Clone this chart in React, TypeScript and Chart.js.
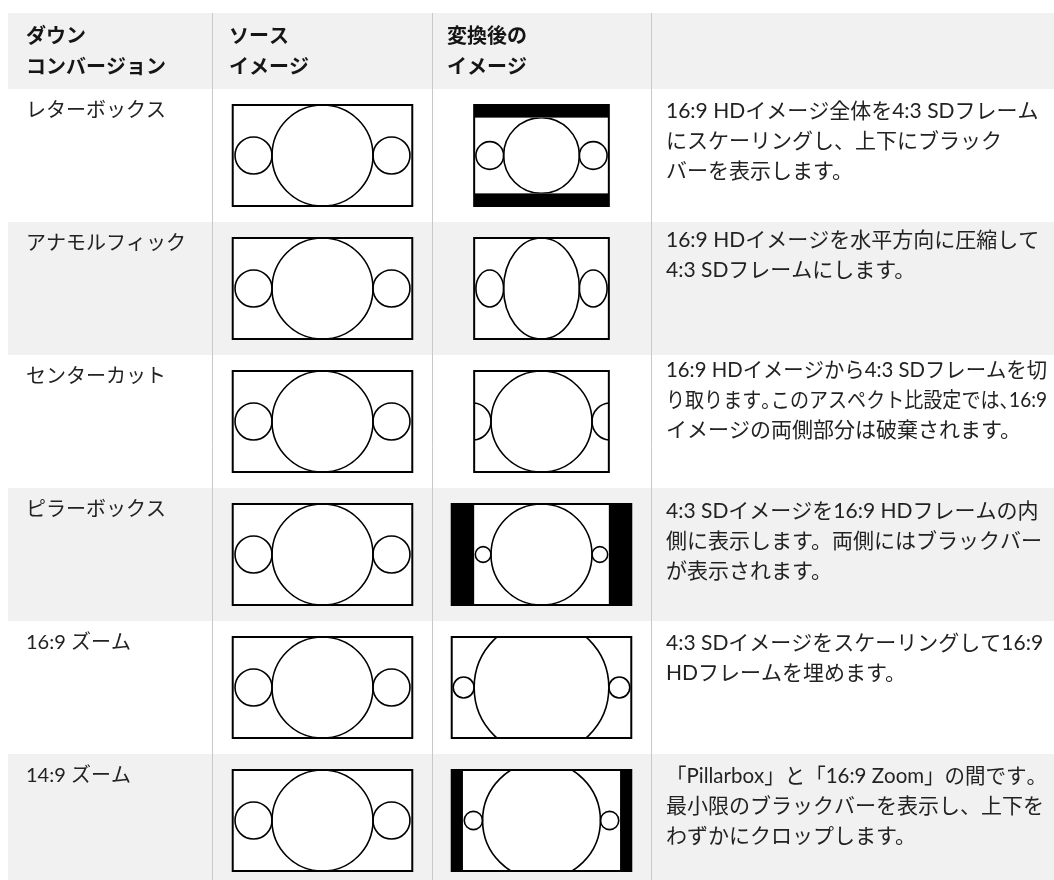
import React, { useEffect, useRef } from "react";
import { Chart, registerables } from "chart.js";

Chart.register(...registerables);

// ---------- data ----------
const HEADERS: string[][] = [
  ["ダウン", "コンバージョン"],
  ["ソース", "イメージ"],
  ["変換後の", "イメージ"],
  [],
];

const CONVERSIONS: string[] = [
  "レターボックス",
  "アナモルフィック",
  "センターカット",
  "ピラーボックス",
  "16:9 ズーム",
  "14:9 ズーム",
];

const DESCRIPTIONS: string[][] = [
  ["16:9 HDイメージ全体を4:3 SDフレーム", "にスケーリングし、上下にブラック", "バーを表示します。"],
  ["16:9 HDイメージを水平方向に圧縮して", "4:3 SDフレームにします。"],
  ["16:9 HDイメージから4:3 SDフレームを切", "り取ります。このアスペクト比設定では、16:9", "イメージの両側部分は破棄されます。"],
  ["4:3 SDイメージを16:9 HDフレームの内", "側に表示します。両側にはブラックバー", "が表示されます。"],
  ["4:3 SDイメージをスケーリングして16:9", "HDフレームを埋めます。"],
  ["「Pillarbox」と「16:9 Zoom」の間です。", "最小限のブラックバーを表示し、上下を", "わずかにクロップします。"],
];

// which picture feeds the converted frame
const OUTPUT_SCENE: ("HD" | "SD")[] = ["HD", "HD", "HD", "SD", "SD", "SD"];
// aspect ratio of the converted frame
const OUTPUT_ASPECT: number[] = [4 / 3, 4 / 3, 4 / 3, 16 / 9, 16 / 9, 16 / 9];
// scaling applied to the picture inside the converted frame
const SCALE_X: number[] = [0.75, 0.75, 1, 1, 4 / 3, 7 / 6];
const SCALE_Y: number[] = [0.75, 1, 1, 1, 4 / 3, 7 / 6];

const SCENE_ASPECT = { HD: 16 / 9, SD: 4 / 3 };
// circles of each picture: [x offset, radius] in frame-height units
const HD_CIRCLES: number[][] = [[0, 0.5], [-0.683, 0.183], [0.683, 0.183]];
const SD_CIRCLES: number[][] = [[0, 0.5], [-0.578, 0.0775], [0.578, 0.0775]];

// ---------- layout ----------
const W = 1054;
const H = 880;
const TABLE_LEFT = 8;
const HEADER_TOP = 13;
const HEADER_BOTTOM = 89;
const ROW_H = 133;
const COL_LINES = [212.5, 432.5, 651.5];
const COL_TEXT_X = [26, 229, 447, 666];
const SRC_CX = 322.5;
const OUT_CX = 541.5;
const FRAME_H = 101;
const HEADER_LINE_Y = [35, 66];
const LABEL_DY = 22;
const DESC_DY = [22, 18, 15, 23, 22, 22];
const DESC_LH = 30;
const DESC_MAXW = 381;
const GRAY = "#f1f1f1";
const RULE = "#c8c8c8";
const FONT = '"Noto Sans CJK JP", "Noto Sans", sans-serif';
const BODY_FONT = 'Lato, "Noto Sans CJK JP", sans-serif';

function drawLine(ctx: CanvasRenderingContext2D, text: string, x: number, y: number, size: number, maxW: number) {
  const natural = ctx.measureText(text).width;
  if (natural <= maxW) {
    ctx.fillText(text, x, y);
    return;
  }
  // compress punctuation, then squeeze if still too wide
  const adv: number[] = [];
  let total = 0;
  for (let i = 0; i < text.length; i++) {
    const ch = text[i];
    let a = ctx.measureText(ch).width;
    if ((ch === "。" || ch === "、") && i < text.length - 1) a -= size * 0.5;
    adv.push(a);
    total += a;
  }
  const f = total > maxW ? maxW / total : 1;
  ctx.save();
  ctx.translate(x, y);
  ctx.scale(f, 1);
  let cx = 0;
  for (let i = 0; i < text.length; i++) {
    ctx.fillText(text[i], cx, 0);
    cx += adv[i];
  }
  ctx.restore();
}

const tablePlugin = {
  id: "conversionTable",
  beforeDatasetsDraw(chart: any) {
    const ctx: CanvasRenderingContext2D = chart.ctx;
    const xs = chart.scales.x;
    const ys = chart.scales.y;
    const X = (v: number) => xs.getPixelForValue(v);
    const Y = (v: number) => ys.getPixelForValue(v);
    const n = CONVERSIONS.length;

    ctx.save();
    // backgrounds
    ctx.fillStyle = "#ffffff";
    ctx.fillRect(X(0), Y(0), X(W) - X(0), Y(H) - Y(0));
    ctx.fillStyle = GRAY;
    ctx.fillRect(X(TABLE_LEFT), Y(HEADER_TOP), X(W) - X(TABLE_LEFT), Y(HEADER_BOTTOM) - Y(HEADER_TOP));
    for (let i = 0; i < n; i++) {
      if (i % 2 === 1) {
        const top = HEADER_BOTTOM + i * ROW_H;
        ctx.fillRect(X(TABLE_LEFT), Y(top), X(W) - X(TABLE_LEFT), Y(top + ROW_H) - Y(top));
      }
    }
    // column rules
    ctx.strokeStyle = RULE;
    ctx.lineWidth = 1;
    for (const cx of COL_LINES) {
      ctx.beginPath();
      ctx.moveTo(X(cx), Y(HEADER_TOP));
      ctx.lineTo(X(cx), Y(H));
      ctx.stroke();
    }

    // header text
    ctx.textBaseline = "middle";
    ctx.textAlign = "left";
    ctx.fillStyle = "#151515";
    ctx.font = `bold 20px ${FONT}`;
    HEADERS.forEach((lines, c) => {
      lines.forEach((t, k) => ctx.fillText(t, X(COL_TEXT_X[c]), Y(HEADER_LINE_Y[k])));
    });

    // frame drawing helper
    const drawFrame = (cx: number, cy: number, aspect: number, circles: number[][], sceneAspect: number, sx: number, sy: number) => {
      const fw = aspect * FRAME_H;
      const left = X(cx - fw / 2), right = X(cx + fw / 2);
      const top = Y(cy - FRAME_H / 2), bottom = Y(cy + FRAME_H / 2);
      const regW = Math.min(aspect, sceneAspect * sx) * FRAME_H;
      const regH = Math.min(1, sy) * FRAME_H;
      ctx.fillStyle = "#000";
      ctx.fillRect(left, top, right - left, bottom - top);
      const rl = X(cx - regW / 2), rr = X(cx + regW / 2);
      const rt = Y(cy - regH / 2), rb = Y(cy + regH / 2);
      ctx.fillStyle = "#fff";
      ctx.fillRect(rl, rt, rr - rl, rb - rt);
      ctx.save();
      ctx.beginPath();
      ctx.rect(rl, rt, rr - rl, rb - rt);
      ctx.clip();
      ctx.strokeStyle = "#000";
      ctx.lineWidth = 1.6;
      for (const [ox, r] of circles) {
        const ex = X(cx + ox * sx * FRAME_H);
        const ey = Y(cy);
        const rx = X(cx + r * sx * FRAME_H) - X(cx);
        const ry = Y(cy + r * sy * FRAME_H) - Y(cy);
        ctx.beginPath();
        ctx.ellipse(ex, ey, rx, ry, 0, 0, Math.PI * 2);
        ctx.stroke();
      }
      ctx.restore();
      ctx.strokeStyle = "#000";
      ctx.lineWidth = 2;
      ctx.strokeRect(left, top, right - left, bottom - top);
    };

    for (let i = 0; i < n; i++) {
      const top = HEADER_BOTTOM + i * ROW_H;
      const cy = top + ROW_H / 2;
      // label
      ctx.fillStyle = "#222";
      ctx.font = `400 20px ${BODY_FONT}`;
      ctx.fillText(CONVERSIONS[i], X(COL_TEXT_X[0]), Y(top + LABEL_DY));
      // source picture (always HD)
      drawFrame(SRC_CX, cy, SCENE_ASPECT.HD, HD_CIRCLES, SCENE_ASPECT.HD, 1, 1);
      // converted picture
      const scene = OUTPUT_SCENE[i];
      drawFrame(OUT_CX, cy, OUTPUT_ASPECT[i], scene === "HD" ? HD_CIRCLES : SD_CIRCLES, SCENE_ASPECT[scene], SCALE_X[i], SCALE_Y[i]);
      // description
      ctx.fillStyle = "#222";
      ctx.font = `400 21px ${BODY_FONT}`;
      DESCRIPTIONS[i].forEach((t, k) => {
        drawLine(ctx, t, X(COL_TEXT_X[3]), Y(top + DESC_DY[i] + k * DESC_LH), 21, DESC_MAXW);
      });
    }
    ctx.restore();
  },
};

export default function App() {
  const ref = useRef<HTMLCanvasElement>(null);
  useEffect(() => {
    const chart = new Chart(ref.current as HTMLCanvasElement, {
      type: "scatter",
      data: { datasets: [{ data: [], pointRadius: 0 }] },
      options: {
        responsive: false,
        animation: false,
        events: [],
        layout: { padding: 0 },
        scales: {
          x: { type: "linear", min: 0, max: W, display: false },
          y: { type: "linear", min: 0, max: H, reverse: true, display: false },
        },
        plugins: { legend: { display: false }, tooltip: { enabled: false } },
      },
      plugins: [tablePlugin],
    } as any);
    return () => chart.destroy();
  }, []);
  return (
    <div style={{ position: "absolute", left: 0, top: 0, width: W, height: H, background: "#fff", overflow: "hidden" }}>
      <canvas ref={ref} width={W} height={H} style={{ display: "block" }} />
    </div>
  );
}
